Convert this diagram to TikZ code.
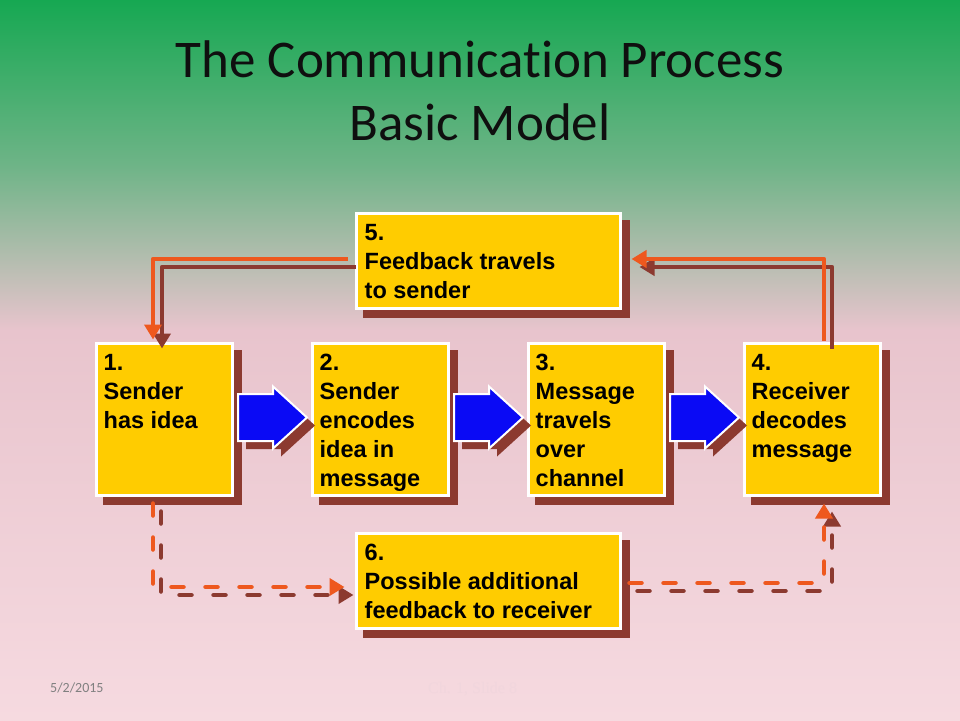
\documentclass[tikz,border=0pt]{standalone}
\usepackage{fontspec}
\setmainfont{Liberation Sans}
\newfontfamily\titlefont[Ligatures=NoCommon]{Carlito}
\newfontfamily\serifft{Liberation Serif}
\usetikzlibrary{arrows.meta,shadows,calc}
\definecolor{ybox}{RGB}{255,204,0}
\definecolor{shb}{RGB}{140,58,48}
\definecolor{org}{RGB}{238,88,30}
\definecolor{blu}{RGB}{10,10,245}
\definecolor{bgG}{RGB}{22,168,82}
\definecolor{bgM}{RGB}{110,180,135}
\definecolor{bgP}{RGB}{232,196,205}
\definecolor{bgL}{RGB}{246,218,224}
\definecolor{ttl}{RGB}{15,15,15}
\definecolor{faint}{RGB}{241,214,221}
\begin{document}
\begin{tikzpicture}[x=1pt,y=-1pt,
  box/.style={fill=ybox, draw=white, line width=3pt, minimum width=136pt, minimum height=152pt,
    inner sep=0pt, outer sep=0pt,
    general shadow={fill=shb, draw=shb, line width=3pt, shadow xshift=8pt, shadow yshift=-8pt}},
  wbox/.style={box, minimum width=264pt, minimum height=95pt},
  txt/.style={anchor=base west, inner sep=0pt},
  fbO/.style={draw=org, line width=4.5pt, line join=round, -{Triangle[length=15pt,width=17pt]}},
  fbB/.style={fbO, draw=shb},
  dsO/.style={fbO, dash pattern=on 12pt off 22pt, line cap=round},
  dsB/.style={dsO, draw=shb},
  blk/.style={fill=blu, draw=white, line width=2pt},
  blks/.style={fill=shb}
]
% background
\fill[top color=bgG, bottom color=bgP, middle color=bgM] (0,0) rectangle (960,330);
\fill[top color=bgP, bottom color=bgL] (0,330) rectangle (960,720);
\useasboundingbox (0,0) rectangle (960,720);

% titles
\node[font=\titlefont\fontsize{53}{63}\selectfont, text=ttl, anchor=base, inner sep=0pt] (title1) at (480,77) {The Communication Process};
\node[font=\titlefont\fontsize{53}{63}\selectfont, text=ttl, anchor=base, inner sep=0pt] (title2) at (480,140) {Basic Model};

% boxes
\node[box] (b1) at (164.5,419.5) {};
\node[box] (b2) at (380.5,419.5) {};
\node[box] (b3) at (596.5,419.5) {};
\node[box] (b4) at (812.5,419.5) {};
\node[wbox] (b5) at (488.5,261) {};
\node[wbox] (b6) at (488.5,581) {};

% texts
\newcommand{\boxtext}[1]{\parbox[t]{250pt}{\fontsize{23.5}{29}\selectfont\bfseries #1}}
\node[txt] (t1) at ($(b1.north west)+(7,27)$) {\boxtext{1.\\Sender\\has idea}};
\node[txt] (t2) at ($(b2.north west)+(7,27)$) {\boxtext{2.\\Sender\\encodes\\idea in\\message}};
\node[txt] (t3) at ($(b3.north west)+(7,27)$) {\boxtext{3.\\Message\\travels\\over\\channel}};
\node[txt] (t4) at ($(b4.north west)+(7,27)$) {\boxtext{4.\\Receiver\\decodes\\message}};
\node[txt] (t5) at ($(b5.north west)+(8,27)$) {\boxtext{5.\\Feedback travels\\to sender}};
\node[txt] (t6) at ($(b6.north west)+(8,27)$) {\boxtext{6.\\Possible additional\\feedback to receiver}};

% blue block arrows
\foreach \a/\b in {b1/b2,b2/b3,b3/b4}{
  \coordinate (m\a) at ($(\a.east)!0.5!(\b.west)+(0,-2)$);
  \fill[blks, shift={($(m\a)+(8,8)$)}] (-34.5,-23.5) -- (0.5,-23.5) -- (0.5,-31) -- (34.5,0) -- (0.5,31) -- (0.5,23.5) -- (-34.5,23.5) -- cycle;
  \draw[blk, shift={(m\a)}] (-34.5,-23.5) -- (0.5,-23.5) -- (0.5,-31) -- (34.5,0) -- (0.5,31) -- (0.5,23.5) -- (-34.5,23.5) -- cycle;
}

% feedback (top)
\draw[fbB] ([xshift=-1pt,yshift=-6pt]b5.west) -| ([xshift=-2.5pt,yshift=-5pt]b1.north);
\draw[fbO] ([xshift=-9pt,yshift=2pt]b5.west) -| ([xshift=-11.5pt,yshift=4pt]b1.north);
\draw[fbB] ([xshift=19.5pt,yshift=-5pt]b4.north) |- ([xshift=19pt,yshift=-6pt]b5.east);
\draw[fbO] ([xshift=11.5pt,yshift=3pt]b4.north) |- ([xshift=11pt,yshift=2pt]b5.east);

% additional feedback (bottom, dashed)
\draw[dsB] ([xshift=-3.5pt,yshift=-16pt]b1.south) |- ([xshift=-3pt,yshift=-14pt]b6.west);
\draw[dsO] ([xshift=-11.5pt,yshift=-8pt]b1.south) |- ([xshift=-12pt,yshift=-6pt]b6.west);
\draw[dsB] ([xshift=17pt,yshift=-10pt]b6.east) -| ([xshift=19.5pt,yshift=-16pt]b4.south);
\draw[dsO] ([xshift=9pt,yshift=-2pt]b6.east) -| ([xshift=11.5pt,yshift=-8pt]b4.south);

% footer
\node[font=\titlefont\fontsize{14}{16}\selectfont, text=gray, anchor=base west, inner sep=0pt] (date) at (50,692) {5/2/2015};
\node[font=\serifft\fontsize{16}{18}\selectfont, text=faint, anchor=base west, inner sep=0pt] (slide) at (428,693) {Ch. 1, Slide 8};
\end{tikzpicture}
\end{document}
